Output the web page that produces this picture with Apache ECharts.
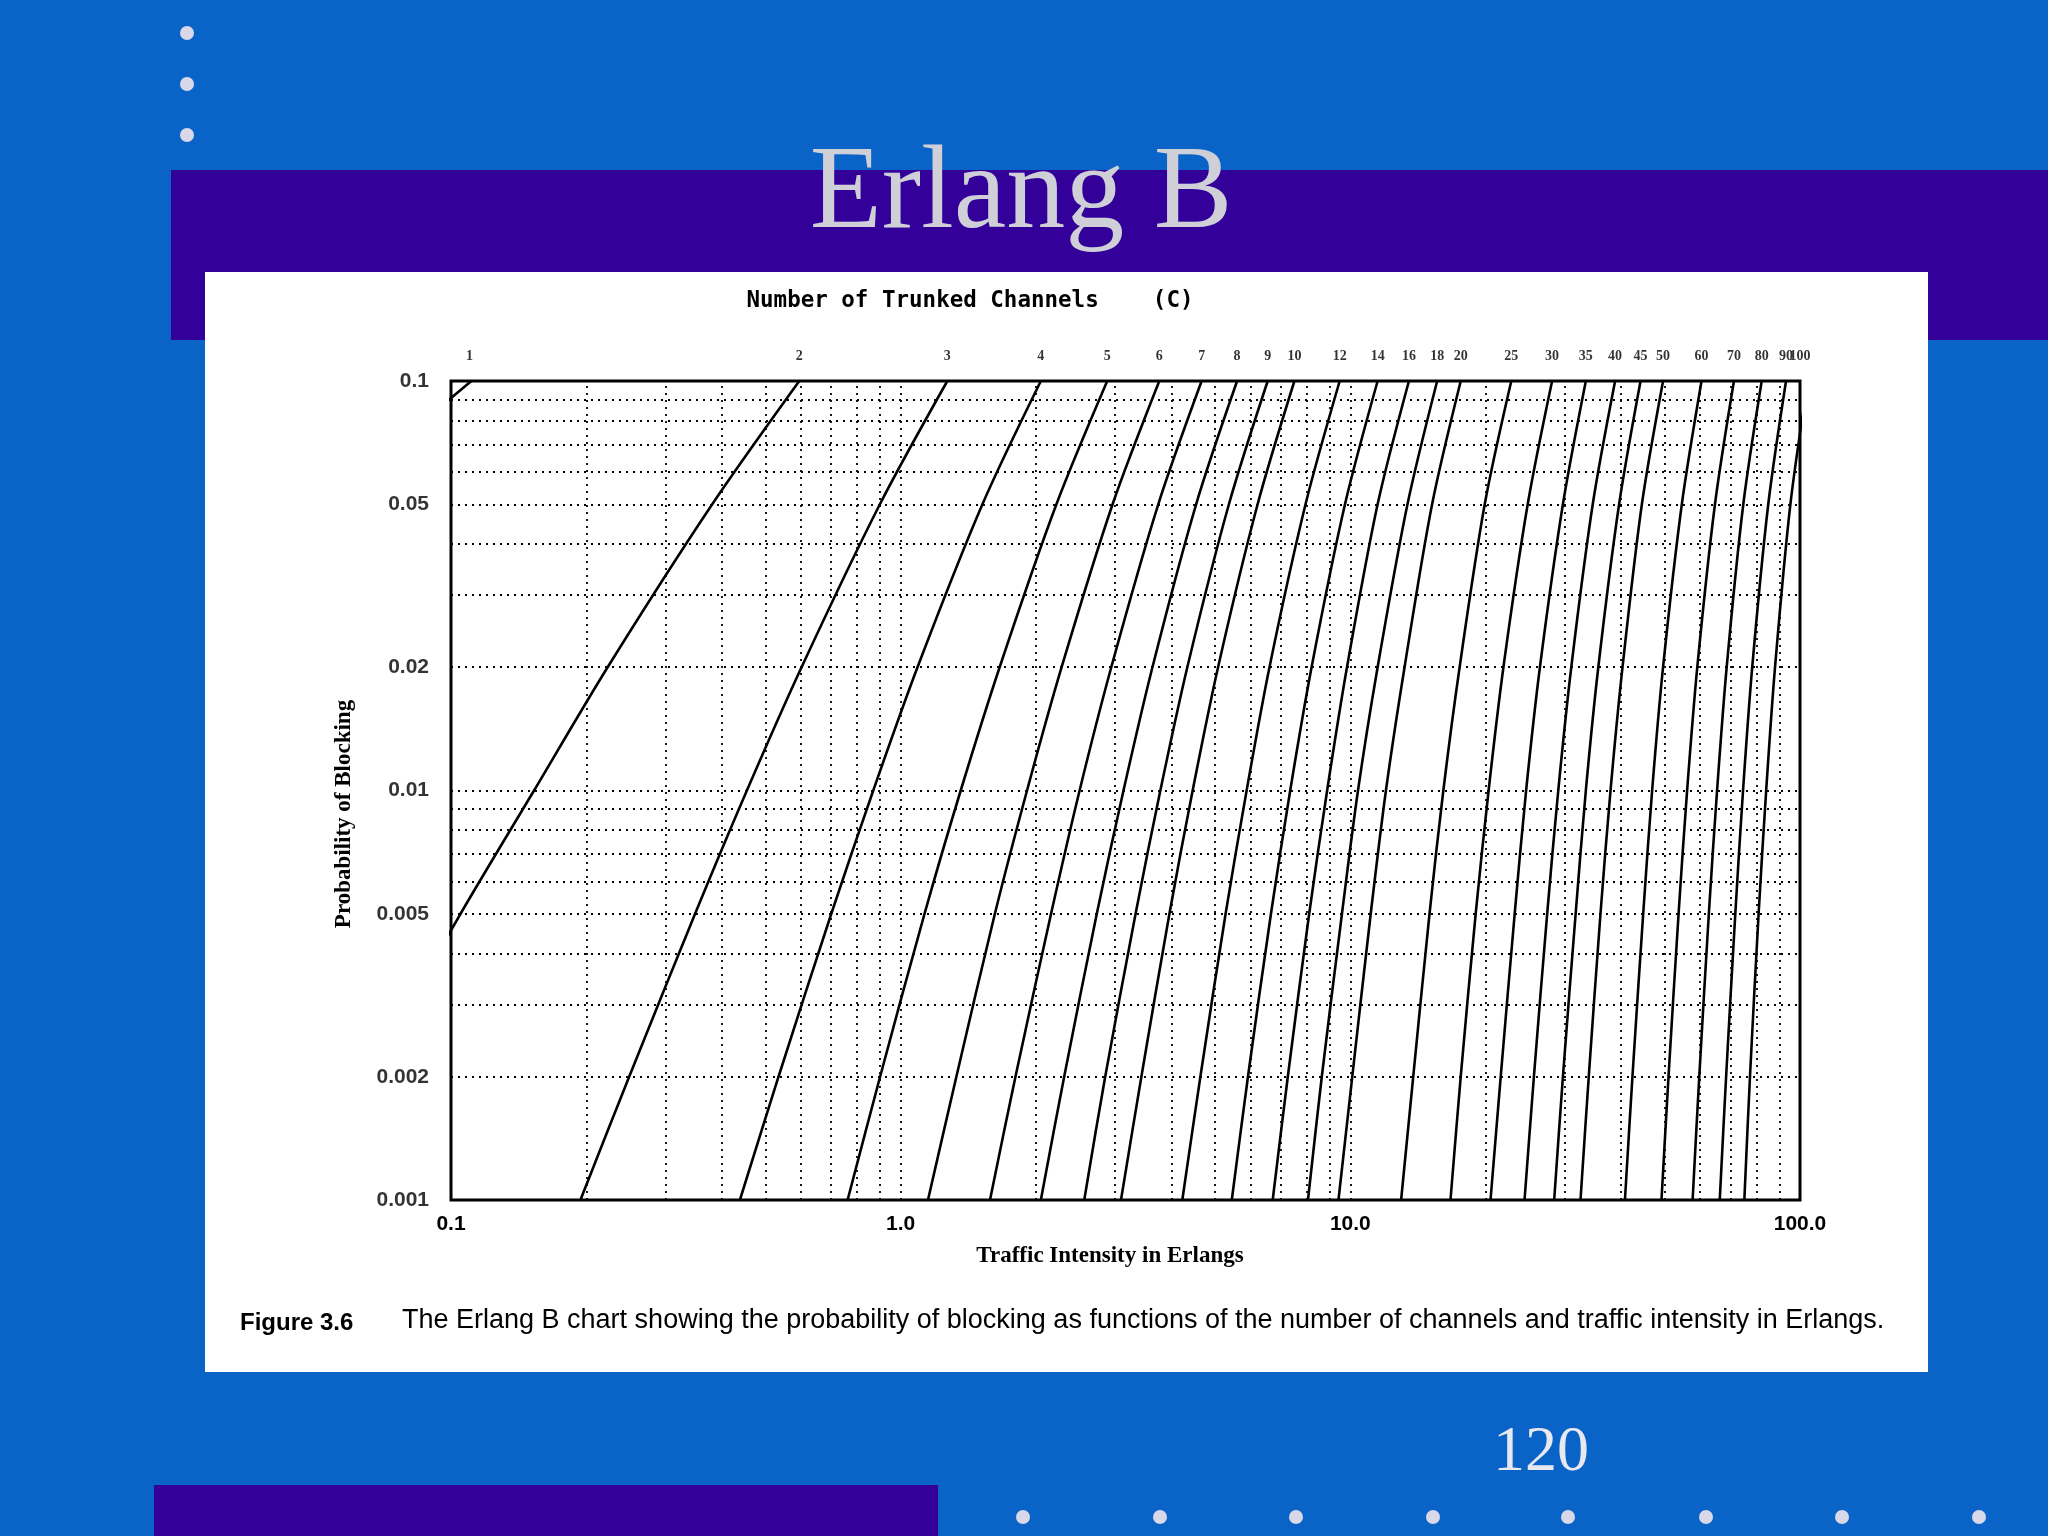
<!DOCTYPE html>
<html><head><meta charset="utf-8">
<script src="https://cdn.jsdelivr.net/npm/echarts@6/dist/echarts.min.js"></script>
<style>html,body{margin:0;padding:0;background:#0a64c8;}#c{width:2048px;height:1536px;}</style>
</head><body><div id="c"></div>
<script>
// Blocking probabilities (y) at which traffic values are read
const blocking = [0.001, 0.002, 0.005, 0.01, 0.02, 0.05, 0.1];
// Number of trunked channels
const channels = [1,2,3,4,5,6,7,8,9,10,12,14,16,18,20,25,30,35,40,45,50,60,70,80,90,100];
// Traffic intensity (Erlangs) for each channel count at each blocking value
const traffic = [
 [0.001,0.002,0.005,0.0101,0.0204,0.0526,0.111],
 [0.0458,0.0653,0.105,0.153,0.223,0.381,0.595],
 [0.194,0.249,0.349,0.455,0.602,0.899,1.27],
 [0.439,0.535,0.701,0.869,1.09,1.52,2.05],
 [0.762,0.900,1.13,1.36,1.66,2.22,2.88],
 [1.15,1.33,1.62,1.91,2.28,2.96,3.76],
 [1.58,1.80,2.16,2.50,2.94,3.74,4.67],
 [2.05,2.31,2.73,3.13,3.63,4.54,5.60],
 [2.56,2.85,3.33,3.78,4.34,5.37,6.55],
 [3.09,3.43,3.96,4.46,5.08,6.22,7.51],
 [4.23,4.64,5.28,5.88,6.61,7.95,9.47],
 [5.45,5.92,6.66,7.35,8.20,9.73,11.5],
 [6.72,7.26,8.10,8.88,9.83,11.5,13.5],
 [8.05,8.64,9.58,10.4,11.5,13.4,15.6],
 [9.41,10.1,11.1,12.0,13.2,15.2,17.6],
 [12.97,13.8,15.0,16.1,17.5,19.9,22.8],
 [16.7,17.6,19.0,20.3,21.9,24.8,28.1],
 [20.5,21.6,23.2,24.6,26.4,29.7,33.4],
 [24.4,25.6,27.4,29.0,31.0,34.6,38.8],
 [28.4,29.7,31.7,33.4,35.6,39.6,44.2],
 [32.5,33.9,36.0,37.9,40.3,44.5,49.6],
 [40.8,42.4,44.8,46.9,49.6,54.6,60.4],
 [49.2,51.0,53.7,56.1,59.1,64.7,71.3],
 [57.7,59.7,62.7,65.4,68.7,74.8,82.2],
 [66.3,68.5,71.8,74.7,78.3,85.0,93.1],
 [75.2,77.4,80.9,84.1,88.0,95.2,104.1]
];
// Top label positions (Erlangs at B = 0.1, clamped to the axis)
const topLabelX = [0.11,0.595,1.27,2.05,2.88,3.76,4.67,5.6,6.55,7.51,9.47,11.5,13.5,15.6,17.6,22.8,28.1,33.4,38.8,44.2,49.6,60.4,71.3,82.2,93.1,100];
const xTickLabels = {0.1:'0.1',1:'1.0',10:'10.0',100:'100.0'};
const yTickLabels = ['0.1','0.05','0.02','0.01','0.005','0.002','0.001'];
const xGrid = [0.2,0.3,0.4,0.5,0.6,0.7,0.8,0.9,1,2,3,4,5,6,7,8,9,10,20,30,40,50,60,70,80,90];
const yGrid = [0.002,0.003,0.004,0.005,0.006,0.007,0.008,0.009,0.01,0.02,0.03,0.04,0.05,0.06,0.07,0.08,0.09];
const extent = [[0.1,0.001],[100,0.1]];

const chart = echarts.init(document.getElementById('c'));
const series = [];
series.push({
  type:'line', data:extent, silent:true, showSymbol:false, lineStyle:{opacity:0}, z:1,
  markLine:{symbol:'none', silent:true, animation:false, precision:4,
    lineStyle:{color:'#000',type:[2,5],width:1.8},
    label:{show:false},
    data:[...xGrid.map(v=>({xAxis:v})), ...yGrid.map(v=>({yAxis:v}))]}
});
series.push({
  type:'scatter', symbolSize:0, silent:true, clip:false,
  data: yTickLabels.map(t=>({value:[0.1, Number(t)], label:{formatter:t}})),
  label:{show:true, position:'left', distance:22, color:'#000', fontFamily:'Liberation Sans', fontWeight:'bold', fontSize:21}
});
channels.forEach((c,i)=>series.push({
  type:'line', data: traffic[i].map((a,j)=>[a,blocking[j]]), showSymbol:false, smooth:0.3,
  clip:true, lineStyle:{color:'#000',width:2.6}, silent:true, z:3
}));
series.push({
  type:'scatter', symbolSize:0, silent:true, clip:false,
  data: topLabelX.map((x,i)=>({value:[x,0.1], label:{formatter:String(channels[i])}})),
  label:{show:true, position:'top', distance:18, color:'#000', fontFamily:'Liberation Serif', fontWeight:'bold', fontSize:14}
});

chart.setOption({
  backgroundColor:'#0a64c8',
  animation:false,
  graphic:[
    {type:'rect', z:-10, shape:{x:171,y:170,width:1877,height:170}, style:{fill:'#330099'}},
    {type:'rect', z:-10, shape:{x:154,y:1485,width:784,height:51}, style:{fill:'#330099'}},
    {type:'rect', z:-9, shape:{x:205,y:272,width:1723,height:1100}, style:{fill:'#fff'}},
    ...[33,84,135].map(y=>({type:'circle', shape:{cx:187,cy:y,r:7}, style:{fill:'#d8d8e8'}})),
    ...[1023,1160,1296,1433,1568,1706,1842,1979].map(x=>({type:'circle', shape:{cx:x,cy:1517,r:7}, style:{fill:'#d8d8e8'}})),
    {type:'text', x:1021, y:196, style:{text:'Erlang B', fill:'#cfcfd8', font:'118px "Liberation Serif"', align:'center', verticalAlign:'middle'}},
    {type:'text', x:1541, y:1453, style:{text:'120', fill:'#e8e8f0', font:'64px "Liberation Serif"', align:'center', verticalAlign:'middle'}},
    {type:'text', x:970, y:301, style:{text:'Number of Trunked Channels    (C)', fill:'#000', font:'bold 22.5px "DejaVu Sans Mono"', align:'center', verticalAlign:'middle'}},
    {type:'text', x:1110, y:1256, style:{text:'Traffic Intensity in Erlangs', fill:'#000', font:'bold 23px "Liberation Serif"', align:'center', verticalAlign:'middle'}},
    {type:'text', x:344, y:814, rotation:Math.PI/2, style:{text:'Probability of Blocking', fill:'#000', font:'bold 23px "Liberation Serif"', align:'center', verticalAlign:'middle'}},
    {type:'text', x:240, y:1323, style:{text:'Figure 3.6', fill:'#000', font:'bold 24px "Liberation Sans"', verticalAlign:'middle'}},
    {type:'text', x:402, y:1321, style:{text:'The Erlang B chart showing the probability of blocking as functions of the number of channels and traffic intensity in Erlangs.', fill:'#000', font:'27px "Liberation Sans"', verticalAlign:'middle'}}
  ],
  grid:{left:451, top:381, width:1349, height:819, show:true, z:5, borderColor:'#000', borderWidth:3, backgroundColor:'transparent'},
  xAxis:{type:'log', logBase:10, min:0.1, max:100,
    axisLine:{show:false}, axisTick:{show:false}, splitLine:{show:false},
    axisLabel:{color:'#000', fontFamily:'Liberation Sans', fontWeight:'bold', fontSize:21, margin:14,
      formatter:v=>xTickLabels[+Number(v).toPrecision(3)]||''}},
  yAxis:{type:'log', logBase:10, min:0.001, max:0.1,
    axisLine:{show:false}, axisTick:{show:false}, splitLine:{show:false}, axisLabel:{show:false}},
  series
});
</script></body></html>
